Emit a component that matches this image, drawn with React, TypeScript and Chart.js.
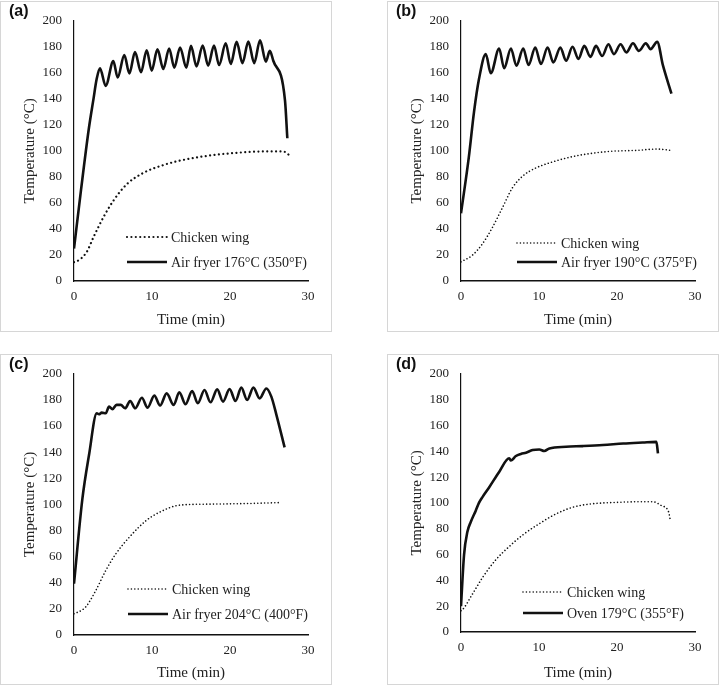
import React, { useEffect, useRef } from "react";
import { Chart, registerables } from "chart.js";
Chart.register(...registerables);

const SERIF = '"Liberation Serif", "Times New Roman", serif';
const SANS = '"Liberation Sans", Arial, sans-serif';

// ---- Panel (a): Air fryer 176°C ----
const aFryerT = [0, 0.9, 1.9, 2.5, 2.9, 3.33, 4.06, 5.04, 5.6, 6.45, 7.1, 7.82, 8.59, 9.32, 9.96, 10.7, 11.45, 12.2, 12.86, 13.6, 14.4, 15.0, 15.7, 16.5, 17.2, 17.95, 18.6, 19.45, 20.1, 20.85, 21.6, 22.35, 23.1, 23.85, 24.6, 25.1, 25.55, 27.05, 27.35];
const aFryerV = [25, 70, 117, 140, 155, 163.5, 150, 169, 156.4, 173.6, 159.5, 176, 160.5, 177.4, 161.7, 178, 163, 178.7, 164, 179.5, 164, 180.7, 165, 181, 165.5, 181, 166, 182.7, 166.8, 183.8, 167.5, 184, 167.5, 185, 168.6, 176.9, 169.3, 138.9, 109.7];
const aWingT = [0, 0.2, 1.6, 2.5, 3.76, 5.04, 6.75, 8.89, 11.0, 13.2, 16.6, 20.4, 24.7, 26.8, 27.8];
const aWingV = [14.5, 14.7, 22, 33.7, 48.9, 61.6, 74.3, 83.1, 88.2, 92, 95.8, 98.3, 99.6, 99.6, 95.8];

// ---- Panel (b): Air fryer 190°C ----
const bFryerT = [0, 1.0, 1.67, 2.3, 3.18, 3.82, 4.89, 5.53, 6.4, 7.1, 7.98, 8.66, 9.52, 10.25, 11.1, 11.84, 12.74, 13.47, 14.3, 15.06, 15.8, 16.6, 17.3, 18.1, 18.9, 19.6, 20.46, 21.2, 22.05, 22.8, 23.7, 24.3, 25.15, 25.9, 26.98];
const bFryerV = [52, 95, 130, 155, 174.4, 159.7, 178.7, 163.5, 178.7, 165.5, 178.7, 166, 179.5, 166.8, 179.5, 168, 179.5, 169.3, 180, 170.6, 180.7, 172.3, 180.7, 173, 182, 174.4, 182, 175.7, 182.7, 176.9, 182.7, 178.2, 183.8, 165.5, 144];
const bWingT = [0, 1.46, 2.75, 4.04, 5.32, 6.6, 7.9, 9.6, 11.3, 13.5, 15.6, 19.05, 22.5, 25.1, 26.98];
const bWingV = [14.7, 19.8, 28.6, 41.3, 56.5, 71.7, 80.6, 86.9, 90.7, 94.5, 97.1, 99.6, 100.4, 101.4, 100.4];

// ---- Panel (c): Air fryer 204°C ----
const cFryerT = [0, 1.07, 1.93, 2.92, 3.2, 3.56, 4.07, 4.5, 4.93, 5.45, 6.0, 6.56, 7.2, 7.85, 8.7, 9.43, 10.3, 11.03, 11.88, 12.78, 13.5, 14.3, 15.15, 15.87, 16.73, 17.5, 18.36, 19.1, 19.95, 20.7, 21.45, 22.2, 23.0, 23.8, 24.66, 25.3, 25.95, 27.0];
const cFryerV = [39.3, 104, 138, 169.8, 169, 170.3, 169.8, 174.9, 172.9, 176.2, 176.2, 173.6, 179.2, 173.6, 181.7, 174.1, 183.3, 175.7, 185, 176.2, 185.8, 176.7, 186.8, 177.4, 187.6, 178.2, 188.1, 178.7, 188.3, 179.2, 189.4, 180, 189.4, 181.2, 188.8, 182.5, 168.6, 143.7];
const cWingT = [0, 0.1, 1.5, 2.8, 4.07, 5.36, 7.08, 9.22, 10.9, 13.5, 17.4, 21.7, 26.6];
const cWingV = [16.3, 16.5, 21.5, 34.2, 49.4, 62.1, 74.8, 87.5, 93.8, 99.4, 100.2, 100.6, 101.4];

// ---- Panel (d): Oven 179°C ----
const dOvenT = [0, 0.39, 0.82, 1.25, 1.89, 2.3, 2.75, 3.6, 4.89, 6.18, 6.4, 7.04, 7.68, 8.33, 9.18, 10.04, 10.68, 11.33, 13.47, 15.6, 18.2, 20.8, 23.3, 25.05, 25.25];
const dOvenV = [20, 59.8, 77.6, 85.2, 94, 100, 104.5, 112, 124, 134.6, 132.8, 136.3, 137.9, 138.9, 140.9, 141.4, 140.2, 142.2, 143.5, 144, 144.8, 146, 146.8, 147.3, 138.4];
const dWingT = [0, 0.1, 1.47, 2.75, 4.47, 6.18, 7.9, 10.04, 12.2, 14.3, 16.5, 19.9, 23.3, 24.6, 25.7, 26.6, 26.8];
const dWingV = [16.5, 16.7, 29.4, 42.1, 56, 66.2, 75.1, 83.9, 91.5, 96.6, 99.1, 100.4, 100.9, 100.9, 97.9, 93.3, 87.7];

const wingLabel = "Chicken wing";
const heatLabels = ["Air fryer 176°C (350°F)", "Air fryer 190°C (375°F)", "Air fryer 204°C (400°F)", "Oven 179°C (355°F)"];
const panelLetters = ["(a)", "(b)", "(c)", "(d)"];
const xTicks = { min: 0, max: 30, step: 10 };
const yTicks = { min: 0, max: 200, step: 20 };

const zip = (t: number[], v: number[]) => t.map((x, i) => ({ x, y: v[i] }));

type PanelCfg = {
  letter: string;
  left: number;
  top: number;
  heatLabel: string;
  heat: { x: number; y: number }[];
  wing: { x: number; y: number }[];
  dotWidth: number;
  dotDash: number[];
  plotTop: number;
  plotBottom: number;
  legendX0: number;
  legendX1: number;
  legendTextX: number;
  legendY: number[];
};

const W = 332;
const H = 331;

const panels: PanelCfg[] = [
  { letter: panelLetters[0], left: 0, top: 1, heatLabel: heatLabels[0], heat: zip(aFryerT, aFryerV), wing: zip(aWingT, aWingV), dotWidth: 2.2, dotDash: [0.01, 4.4], plotTop: 17, plotBottom: 280, legendX0: 127, legendX1: 167, legendTextX: 171, legendY: [236, 261] },
  { letter: panelLetters[1], left: 387, top: 1, heatLabel: heatLabels[1], heat: zip(bFryerT, bFryerV), wing: zip(bWingT, bWingV), dotWidth: 1.6, dotDash: [0.01, 3.4], plotTop: 17, plotBottom: 280, legendX0: 130, legendX1: 170, legendTextX: 174, legendY: [242, 261] },
  { letter: panelLetters[2], left: 0, top: 354, heatLabel: heatLabels[2], heat: zip(cFryerT, cFryerV), wing: zip(cWingT, cWingV), dotWidth: 1.6, dotDash: [0.01, 3.4], plotTop: 18, plotBottom: 281, legendX0: 128, legendX1: 168, legendTextX: 172, legendY: [235, 260] },
  { letter: panelLetters[3], left: 387, top: 354, heatLabel: heatLabels[3], heat: zip(dOvenT, dOvenV), wing: zip(dWingT, dWingV), dotWidth: 1.6, dotDash: [0.01, 3.4], plotTop: 15, plotBottom: 278, legendX0: 136, legendX1: 176, legendTextX: 180, legendY: [238, 259] },
];

function PanelChart({ p }: { p: PanelCfg }) {
  const ref = useRef<HTMLCanvasElement>(null);
  useEffect(() => {
    if (!ref.current) return;
    const legendPlugin = {
      id: "inlineLegend",
      afterDatasetsDraw(chart: any) {
        const ctx = chart.ctx as CanvasRenderingContext2D;
        ctx.save();
        chart.data.datasets.forEach((ds: any, i: number) => {
          const y = p.legendY[i];
          ctx.beginPath();
          ctx.lineWidth = ds.borderWidth;
          ctx.strokeStyle = ds.borderColor;
          ctx.lineCap = ds.borderCapStyle || "butt";
          ctx.setLineDash(ds.borderDash || []);
          ctx.moveTo(p.legendX0, y);
          ctx.lineTo(p.legendX1, y);
          ctx.stroke();
          ctx.setLineDash([]);
          ctx.fillStyle = "#222";
          ctx.font = `14px ${SERIF}`;
          ctx.textBaseline = "middle";
          ctx.textAlign = "left";
          ctx.fillText(ds.label, p.legendTextX, y + 1);
        });
        ctx.restore();
      },
    };
    const chart = new Chart(ref.current, {
      type: "line",
      data: {
        datasets: [
          {
            label: wingLabel,
            data: p.wing,
            borderColor: "#111",
            borderWidth: p.dotWidth,
            borderDash: p.dotDash,
            borderCapStyle: "round",
            pointRadius: 0,
            cubicInterpolationMode: "monotone",
            fill: false,
          },
          {
            label: p.heatLabel,
            data: p.heat,
            borderColor: "#111",
            borderWidth: 2.6,
            borderCapStyle: "butt",
            borderJoinStyle: "round",
            pointRadius: 0,
            cubicInterpolationMode: "monotone",
            fill: false,
          },
        ],
      },
      options: {
        responsive: false,
        animation: false,
        events: [],
        layout: { padding: { left: 0, right: W - 308, top: p.plotTop, bottom: 0 } },
        plugins: { legend: { display: false }, tooltip: { enabled: false } },
        scales: {
          x: {
            type: "linear",
            min: xTicks.min,
            max: xTicks.max,
            ticks: { stepSize: xTicks.step, color: "#222", font: { family: SERIF, size: 13 }, padding: 8, maxRotation: 0 },
            grid: { display: false, drawTicks: false },
            border: { display: true, color: "#111", width: 1.6 },
            title: { display: true, text: "Time (min)", color: "#222", font: { family: SERIF, size: 15 }, padding: { top: 0, bottom: 3 } },
            afterFit: (s: any) => { s.height = H - p.plotBottom; },
          },
          y: {
            type: "linear",
            min: yTicks.min,
            max: yTicks.max,
            ticks: { stepSize: yTicks.step, color: "#222", font: { family: SERIF, size: 13 }, padding: 12 },
            grid: { display: false, drawTicks: false },
            border: { display: true, color: "#111", width: 1.2 },
            title: { display: true, text: "Temperature (°C)", color: "#222", font: { family: SERIF, size: 15 }, padding: { top: 21, bottom: 0 } },
            afterFit: (s: any) => { s.width = 74; },
          },
        },
      } as any,
      plugins: [legendPlugin],
    });
    return () => chart.destroy();
  }, [p]);
  return (
    <>
      <canvas ref={ref} width={W} height={H} style={{ position: "absolute", left: p.left, top: p.top, width: W, height: H, display: "block" }} />
      <div style={{ position: "absolute", left: p.left, top: p.top, width: W, height: H, boxSizing: "border-box", border: "1px solid #d6d6d6", pointerEvents: "none" }} />
      <div style={{ position: "absolute", left: p.left + 9, top: p.top + 1, fontFamily: SANS, fontWeight: "bold", fontSize: 16, lineHeight: "18px", color: "#111" }}>{p.letter}</div>
    </>
  );
}

export default function App() {
  return (
    <div style={{ position: "absolute", left: 0, top: 0, width: 720, height: 686, background: "#fff", overflow: "hidden" }}>
      {panels.map((p) => (
        <PanelChart key={p.letter} p={p} />
      ))}
    </div>
  );
}
